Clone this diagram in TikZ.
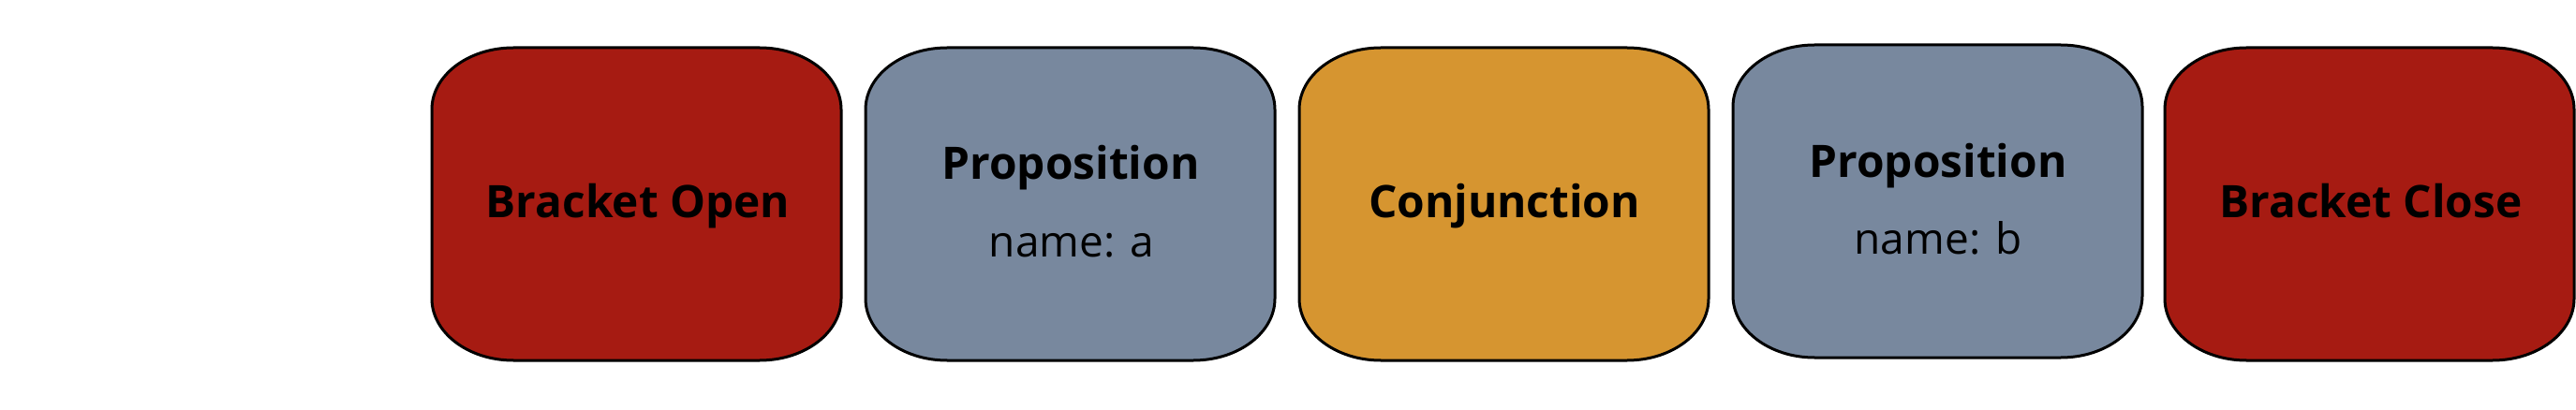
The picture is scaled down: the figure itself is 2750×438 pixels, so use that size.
\documentclass[tikz,border=0pt]{standalone}
\usepackage{fontspec}
\setmainfont{Open Sans}
\definecolor{bred}{RGB}{166,27,18}
\definecolor{bslate}{RGB}{120,136,158}
\definecolor{bgold}{RGB}{214,149,48}
\tikzset{
  boxline/.style={draw=black, line width=3pt},
  title/.style={font=\fontsize{47.8}{58}\selectfont\bfseries, anchor=base, inner sep=0pt},
  sub/.style={font=\fontsize{46}{58}\selectfont, anchor=base, inner sep=0pt}
}
\newcommand\ebox[4]{% left, top, bottom, colour
  \filldraw[boxline, fill=#4] (#1,#2-66) -- (#1,#3+66)
    arc[start angle=180, end angle=270, x radius=87, y radius=66]
    -- (#1+437-87,#3)
    arc[start angle=270, end angle=360, x radius=87, y radius=66]
    -- (#1+437,#2-66)
    arc[start angle=0, end angle=90, x radius=87, y radius=66]
    -- (#1+87,#2)
    arc[start angle=90, end angle=180, x radius=87, y radius=66] -- cycle;}
\begin{document}
\begin{tikzpicture}[x=1pt,y=1pt]
\useasboundingbox (0,0) rectangle (2750,-438);
\ebox{461}{-51}{-385}{bred}
\ebox{924}{-51}{-385}{bslate}
\ebox{1387}{-51}{-385}{bgold}
\ebox{1850}{-48}{-382}{bslate}
\ebox{2311}{-51}{-385}{bred}
\node[title] (bo) at (681,-233) {Bracket Open};
\node[title] (pa) at (1143,-192) {Proposition};
\node[sub] (na) at (1144,-275) {name: a};
\node[title] (cj) at (1606,-233) {Conjunction};
\node[title] (pb) at (2069,-190) {Proposition};
\node[sub] (nb) at (2069,-272) {name: b};
\node[title] (bc) at (2531,-233) {Bracket Close};
\end{tikzpicture}
\end{document}
